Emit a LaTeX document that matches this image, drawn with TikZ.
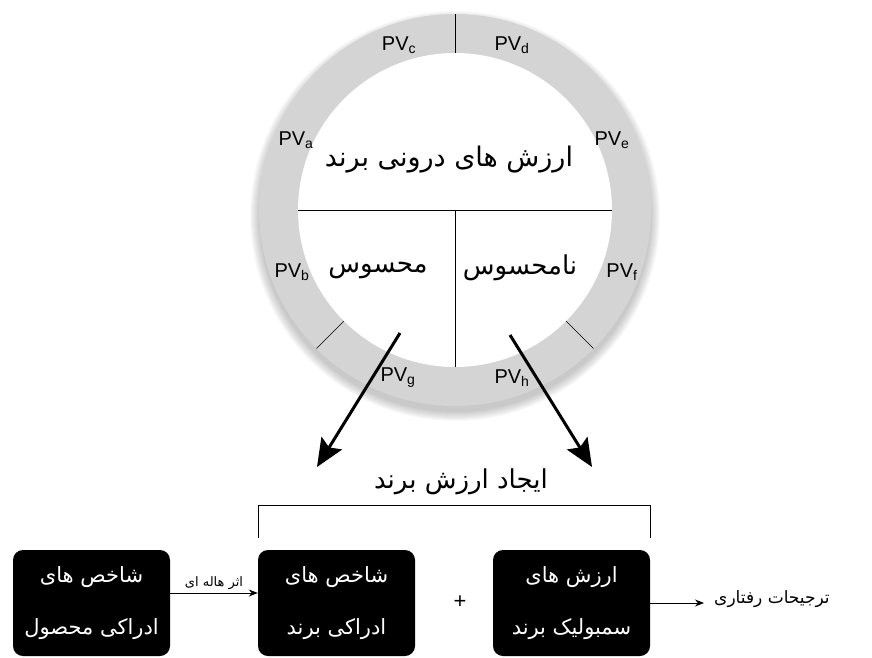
\documentclass[tikz,border=0pt]{standalone}
\usepackage{fontspec}
\setmainfont{Liberation Sans}
\newfontfamily\farsi[Script=Arabic]{DejaVu Sans}
\TeXXeTstate=1
\usetikzlibrary{arrows.meta, positioning}
\definecolor{ringgray}{RGB}{212,212,212}

\begin{document}
\begin{tikzpicture}[x=1pt, y=-1pt,
    pvlabel/.style={font=\fontsize{20}{22}\selectfont, inner sep=0pt},
    fatext/.style={font=\farsi\fontsize{#1}{#1}\selectfont, inner sep=1pt},
    blackbox/.style={fill=black, rounded corners=10pt, minimum width=157pt, minimum height=106pt,
        text=white, align=center, font=\farsi\fontsize{21}{52}\selectfont},
    bigarrow/.style={line width=3pt, -{Stealth[length=28pt, width=24pt, inset=5pt]}},
    smallarrow/.style={line width=1pt, -{Stealth[length=9pt, width=7pt]}}
]
    \useasboundingbox (0,0) rectangle (872,658);
    \coordinate (ctr) at (455,210);

    % ring with a soft shadow
    \foreach \r in {1,...,10}
    {
        \fill[black, opacity=0.025] (455,216) circle (195+\r);
    }
    \fill[ringgray] (ctr) circle (196);
    \fill[white] (ctr) circle (157);
    \foreach \a in {-90,135,45}
    {
        \draw[shift={(ctr)}] (\a:157) -- (\a:196);
    }
    \draw (298,210) -- (612,210);
    \draw (ctr) -- (455,367);

    % PV labels on the ring
    \node[pvlabel] (pv-c) at (399,45) {PV\textsubscript{c}};
    \node[pvlabel] (pv-d) at (512,45) {PV\textsubscript{d}};
    \node[pvlabel] (pv-a) at (296,140) {PV\textsubscript{a}};
    \node[pvlabel] (pv-e) at (612,140) {PV\textsubscript{e}};
    \node[pvlabel] (pv-b) at (292,272) {PV\textsubscript{b}};
    \node[pvlabel] (pv-f) at (622,272) {PV\textsubscript{f}};
    \node[pvlabel] (pv-g) at (398,378) {PV\textsubscript{g}};
    \node[pvlabel] (pv-h) at (512,378) {PV\textsubscript{h}};

    \node[fatext=27] (inner) at (449,160) {\beginR ارزش های درونی برند\endR};
    \node[fatext=26] (tangible) at (378,270) {\beginR محسوس\endR};
    \node[fatext=26] (intangible) at (520,268) {\beginR نامحسوس\endR};

    % arrows down to brand value
    \coordinate (from-t) at (400,333);
    \coordinate (to-t) at (317,467);
    \coordinate (from-i) at (510,335);
    \coordinate (to-i) at (592,467);
    \draw[bigarrow] (from-t) -- (to-t);
    \draw[bigarrow] (from-i) -- (to-i);

    \node[fatext=26] (create) at (461,482) {\beginR ایجاد ارزش برند\endR};

    % boxes
    \node[blackbox] (box-p) at (91.5,603) {\beginR شاخص های\endR\\\beginR ادراکی  محصول\endR};
    \node[blackbox] (box-b) at (336.5,603) {\beginR شاخص های\endR\\\beginR ادراکی  برند\endR};
    \node[blackbox] (box-s) at (571.5,603) {\beginR ارزش های\endR\\\beginR سمبولیک برند\endR};
    \node[font=\fontsize{22}{22}\selectfont] (plus) at (460,602) {+};
    \draw ([yshift=12pt]box-b.north west) -- ++(0,-33) -| ([yshift=12pt]box-s.north east);

    \draw[smallarrow] ([yshift=10pt]box-p.east) -- node[above, fatext=13, yshift=2pt] (halo) {\beginR اثر هاله ای\endR} ([yshift=10pt]box-b.west);
    \node[fatext=17, anchor=west] (pref) at (713,599) {\beginR ترجیحات رفتاری\endR};
    \draw[smallarrow] (box-s.east) -- ([xshift=-9pt]box-s.east -| pref.west);
\end{tikzpicture}
\end{document}
